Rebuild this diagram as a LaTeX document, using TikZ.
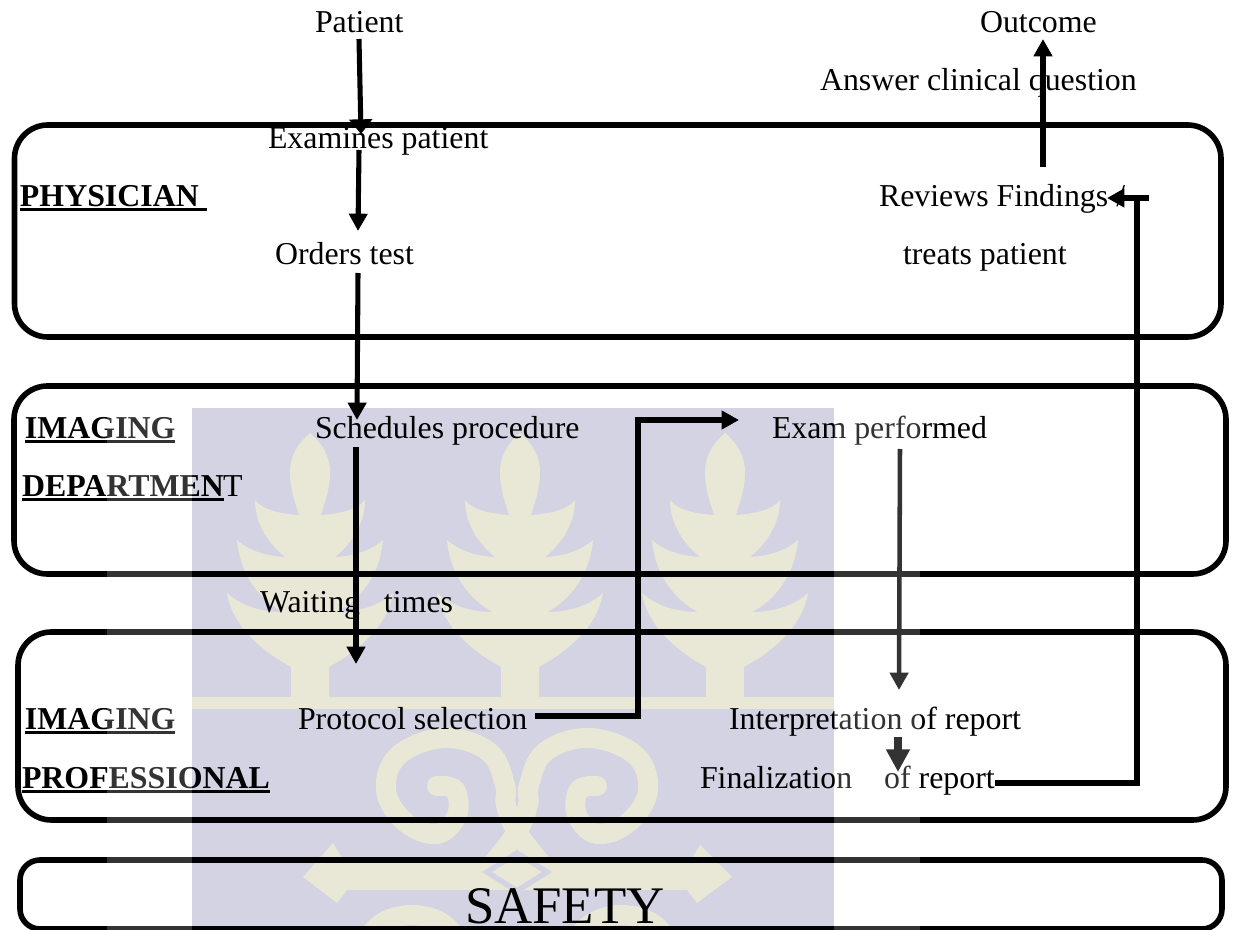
\documentclass[tikz,border=0pt]{standalone}
\usepackage{fontspec}
\setmainfont{Liberation Serif}
\usetikzlibrary{arrows.meta}
\definecolor{wmbg}{RGB}{211,211,227}
\definecolor{wmfg}{RGB}{233,231,214}
\newcommand\ulbox[1]{\vtop{\hbox{#1}\kern 1.2pt\hrule height 2.4pt}}
\tikzset{
  x=0.75pt,y=-0.75pt,
  lane/.style={draw=black,line width=4.2pt,rounded corners=25pt},
  lbl/.style={anchor=base west,inner sep=0pt,outer sep=0pt,yshift=-1pt,font=\fontsize{23.9}{26}\selectfont,text=black},
  head/.style={lbl,font=\fontsize{23.9}{26}\selectfont\bfseries},
  flow/.style={draw=black,line width=3.8pt,-{Triangle[length=13pt,width=13.5pt]}},
  plain/.style={draw=black,line width=3.8pt},
  scroll/.style={draw=wmfg,line width=15pt,line cap=round},
}
\begin{document}
\begin{tikzpicture}
\useasboundingbox (0,0) rectangle (1233,930);
\fill[white] (0,0) rectangle (1233,930);
% watermark
\fill[wmbg] (192,408) rectangle (834,930);
\foreach \cx in {310,520,725}{
\fill[wmfg,shift={(\cx,0)}] (0,433)
  .. controls (14,445) and (20,458) .. (20,472)
  .. controls (20,490) and (14,505) .. (11,515)
  .. controls (28,514) and (48,510) .. (55,500)
  .. controls (55,525) and (40,545) .. (25,557)
  .. controls (45,556) and (62,550) .. (73,540)
  .. controls (70,575) and (50,600) .. (27,612)
  .. controls (50,612) and (70,605) .. (83,593)
  .. controls (78,625) and (50,650) .. (19,667)
  -- (19,700) -- (-19,700) -- (-19,667)
  .. controls (-50,650) and (-78,625) .. (-83,593)
  .. controls (-70,605) and (-50,612) .. (-27,612)
  .. controls (-50,600) and (-70,575) .. (-73,540)
  .. controls (-62,550) and (-45,556) .. (-25,557)
  .. controls (-40,545) and (-55,525) .. (-55,500)
  .. controls (-48,510) and (-28,514) .. (-11,515)
  .. controls (-14,505) and (-20,490) .. (-20,472)
  .. controls (-20,458) and (-14,445) .. (0,433) -- cycle;
}
\fill[wmfg] (192,697) rectangle (834,709);
\begin{scope}[shift={(517,0)}]
\foreach \sg in {1,-1}{
\draw[scroll,xscale=\sg] plot[smooth,tension=.65] coordinates {(28,868) (0,832) (-11,805) (-12,785) (-28,752) (-72,738) (-118,755) (-131,790) (-112,822) (-80,834) (-60,815) (-62,790) (-80,786)};
\draw[scroll,xscale=\sg] (-150,947) arc[start angle=180,end angle=360,x radius=45,y radius=32];
}
\end{scope}
\fill[wmfg] (303,877) -- (333,843) -- (345,863) -- (689,863) -- (700,845) -- (732,877) -- (697,903) -- (687,890) -- (347,890) -- (337,903) -- cycle;
\draw[wmbg,line width=4pt,fill=wmfg] (517,853) -- (547,872) -- (517,891) -- (487,872) -- cycle;
% lanes
\draw[lane] (14.5,125) rectangle (1221,337);
\draw[lane] (14,386) rectangle (1226,574);
\draw[lane] (18,632) rectangle (1226,820);
\draw[lane,rounded corners=15pt] (20,860) rectangle (1222,929);
% labels
\node[lbl] (patient) at (315,31) {Patient};
\node[lbl] (outcome) at (980,31) {Outcome};
\node[lbl] (answer) at (820,89) {Answer clinical question};
\node[lbl] (examines) at (268,147) {Examines patient};
\node[head] (physician) at (20,205) {\ulbox{PHYSICIAN\ }};
\node[lbl] (reviews) at (879,205) {Reviews Findings /};
\node[lbl] (orders) at (275,263) {Orders test};
\node[lbl] (treats) at (903,263) {treats patient};
\node[head] (imgdept) at (25,437) {\ulbox{IMAGING}};
\node[lbl] (schedules) at (315,437) {Schedules procedure};
\node[lbl] (exam) at (772,437) {Exam performed};
\node[lbl] (department) at (22,495) {\ulbox{\bfseries DEPARTMEN}\kern-0.5pt T};
\node[lbl] (waiting) at (260,611) {Waiting\ \ \ times};
\node[head] (imgprof) at (25,728) {\ulbox{IMAGING}};
\node[lbl] (protocol) at (298,728) {Protocol selection};
\node[lbl] (interp) at (729,728) {Interpretation of report};
\node[head] (professional) at (22,787) {\ulbox{PROFESSIONAL}};
\node[lbl] (final) at (700,787) {Finalization\ \ \ \ of report};
\node[lbl,font=\fontsize{39.6}{44}\selectfont] (safety) at (465,922) {SAFETY};
% connector ends
\coordinate (a1s) at (359,39); \coordinate (a1e) at (361,134);
\coordinate (a2s) at (359,150); \coordinate (a2e) at (358,231);
\coordinate (a3s) at (358,273); \coordinate (a3e) at (357,420);
\coordinate (a4s) at (356,447); \coordinate (a4e) at (356,664);
\coordinate (a5s) at (535,716); \coordinate (a5m) at (638,716); \coordinate (a5n) at (638,420); \coordinate (a5e) at (739,420);
\coordinate (a6s) at (900,449); \coordinate (a6e) at (899,690);
\coordinate (a7s) at (898,737); \coordinate (a7e) at (898,772);
\coordinate (a8s) at (995,783); \coordinate (a8m) at (1137,783); \coordinate (a8e) at (1137,198);
\coordinate (a9s) at (1149,198); \coordinate (a9e) at (1107,198);
\coordinate (a10s) at (1043,167); \coordinate (a10e) at (1043,39);
\draw[flow,-{Triangle[length=11pt,width=17pt]}] (a1s) -- (a1e);
\draw[flow] (a2s) -- (a2e);
\draw[flow] (a3s) -- (a3e);
\draw[flow] (a4s) -- (a4e);
\draw[flow] (a5s) -- (a5m) -- (a5n) -- (a5e);
\draw[flow,line width=3.4pt] (a6s) -- (a6e);
\draw[flow,line width=6pt,-{Triangle[length=17pt,width=17pt]}] (a7s) -- (a7e);
\draw[plain] (a8s) -- (a8m) -- (a8e);
\draw[flow] (a9s) -- (a9e);
\draw[flow] (a10s) -- (a10e);
% the pale margins of the watermark lighten what lies under them
\fill[white,opacity=.2] (107,408) rectangle (192,930);
\fill[white,opacity=.2] (834,408) rectangle (920,930);
\end{tikzpicture}
\end{document}
